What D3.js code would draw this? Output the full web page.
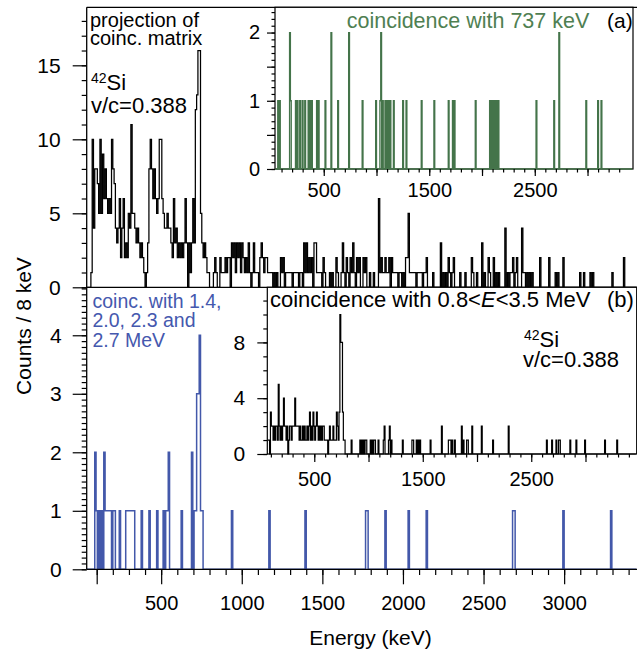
<!DOCTYPE html>
<html><head><meta charset="utf-8">
<script src="https://cdn.jsdelivr.net/npm/d3@7"></script>
<style>
body{margin:0;background:#fff;}
svg{display:block;}
</style></head><body>
<svg id="c" width="637" height="656"></svg>
<script>
// ---------- data (counts per 8 keV bin; bin start energy in keV) ----------
const BIN = 8;
const topStart = 40;
const topDense = [0,0,0,1,10,4,8,8,7,5, 10,5,9,6,8,6,5,6,5,10, 8,7,4,3,4,6,2,4,6,2,
  3,2,5,4,11,5,5,4,3,4, 3,2,3,2,1,0,1,3,8,10, 8,6,8,6,5,6,10,10,6,5,
  4,4,5,4,4,3,2,6,3,4, 2,3,2,3,2,3,6,3,0,3, 1,3,6,3,12,13,16,16,5,3, 2,3,2,1,1,0,0,0];
const topSparse = [[824,1],[832,2],[840,1],[864,2],[872,1],[880,1],[888,1],[896,2],[904,1],[912,2],[920,2],[936,3],[944,2],[952,3],[960,1],[968,3],[976,2],[984,3],[992,1],[1000,3],[1008,2],[1016,1],[1024,2],[1032,1],[1040,3],[1048,1],[1064,1],[1072,3],[1080,1],[1088,1],[1096,1],[1112,2],[1120,3],[1128,2],[1136,1],[1144,2],[1152,2],[1160,1],[1168,1],[1176,1],[1184,1],[1200,1],[1216,1],[1240,2],[1248,1],[1256,2],[1272,1],[1280,1],[1288,1],[1296,1],[1304,1],[1320,1],[1328,1],[1336,1],[1344,1],[1360,1],[1368,1],[1384,3],[1392,1],[1400,3],[1408,1],[1416,2],[1424,1],[1432,2],[1448,3],[1456,3],[1464,1],[1472,1],[1480,1],[1488,1],[1504,2],[1512,1],[1544,1],[1560,1],[1584,2],[1592,1],[1616,1],[1624,3],[1632,1],[1648,2],[1656,1],[1672,2],[1680,1],[1688,3],[1696,1],[1712,2],[1720,1],[1728,2],[1752,2],[1760,1],[1768,2],[1792,1],[1816,1],[1848,6],[1856,1],[1864,2],[1872,1],[1880,1],[1888,2],[1896,1],[1904,1],[1912,2],[1928,2],[1936,1],[1944,1],[1952,1],[1960,1],[1976,1],[1984,1],[2000,1],[2016,2],[2024,2],[2032,5],[2040,1],[2048,1],[2056,1],[2064,1],[2072,1],[2088,1],[2096,1],[2104,1],[2112,1],[2128,1],[2136,1],[2144,2],[2184,1],[2232,3],[2248,1],[2264,1],[2280,2],[2288,1],[2304,1],[2312,2],[2352,1],[2384,1],[2424,2],[2432,1],[2456,1],[2488,3],[2504,1],[2528,2],[2536,1],[2560,2],[2576,1],[2592,1],[2632,4],[2648,1],[2664,1],[2672,1],[2680,2],[2696,1],[2704,2],[2736,4],[2744,1],[2752,1],[2768,1],[2784,1],[2800,1],[2848,2],[2904,2],[2944,1],[2960,1],[2992,2],[3096,1],[3120,1],[3160,1],[3176,1],[3296,1],[3368,2]];
const blueSparse = [[88,2],[96,1],[112,1],[128,1],[144,2],[152,1],[160,1],[168,1],[176,1],[184,1],[200,1],[208,1],[240,1],[280,1],[288,1],[296,1],[304,1],[312,1],[320,1],[328,1],[376,1],[424,1],[472,1],[512,1],[528,1],[536,1],[544,2],[624,1],[688,2],[704,1],[712,1],[720,3],[728,3],[736,4],[744,1],[752,1],[936,1],[1168,1],[1392,1],[1768,1],[1776,1],[1888,1],[2032,1],[2144,1],[2680,1],[2688,1],[2992,1],[3288,1]];
const greenSparse = [[64,1],[80,1],[176,2],[184,1],[232,1],[248,1],[272,1],[296,1],[320,1],[352,1],[368,1],[384,1],[432,1],[448,1],[512,1],[568,2],[632,1],[736,2],[864,1],[992,1],[1032,1],[1040,2],[1056,1],[1080,1],[1096,1],[1112,1],[1128,1],[1160,1],[1248,1],[1280,1],[1424,1],[1544,1],[1680,1],[1720,1],[1736,1],[1936,1],[2072,1],[2088,1],[2104,1],[2120,1],[2136,1],[2152,1],[2512,1],[2680,1],[2728,2],[2984,1],[3096,1],[3128,1]];
const insetBSparse = [[72,1],[80,1],[96,3],[104,2],[112,2],[120,1],[128,2],[136,1],[144,2],[152,2],[160,1],[168,5],[176,2],[184,1],[192,2],[200,1],[208,2],[216,4],[224,2],[232,2],[240,1],[248,2],[264,1],[272,2],[280,2],[288,1],[296,2],[304,2],[312,2],[320,4],[328,2],[336,2],[344,2],[352,2],[360,1],[368,2],[376,1],[384,1],[392,2],[400,1],[408,2],[416,1],[424,1],[432,2],[440,1],[448,2],[456,3],[464,1],[472,2],[480,1],[488,3],[496,2],[504,1],[512,2],[520,3],[528,2],[536,1],[544,2],[552,1],[560,2],[568,1],[576,2],[584,2],[592,1],[600,1],[608,1],[616,1],[632,1],[640,2],[648,1],[656,1],[664,1],[672,2],[680,1],[688,1],[696,1],[704,3],[712,2],[720,1],[728,3],[736,10],[744,8],[752,8],[760,3],[768,1],[776,1],[840,1],[920,1],[936,1],[952,1],[968,1],[976,1],[1016,1],[1032,1],[1048,1],[1056,1],[1088,1],[1136,1],[1144,2],[1184,1],[1192,2],[1208,1],[1312,1],[1400,1],[1408,1],[1440,1],[1456,1],[1472,1],[1568,1],[1672,2],[1736,1],[1744,1],[1752,1],[1768,1],[1792,1],[1856,2],[1872,1],[1904,1],[1912,1],[1952,2],[2040,2],[2144,1],[2288,2],[2640,1],[2688,1],[2728,1],[2752,1],[2760,1],[2856,1],[2912,1],[2992,1],[3176,1],[3288,1]];

const yTopLabels = [0,5,10,15];
const yBotLabels = [0,1,2,3,4];
const xBotLabels = [500,1000,1500,2000,2500,3000];
const xInsetLabels = [500,1500,2500];
const yInsetALabels = [0,1,2];
const yInsetBLabels = [0,4,8];

// ---------- setup ----------
const FONT = '"Liberation Sans", Arial, Helvetica, sans-serif';
const GREEN = '#44744a', GREEN_T = '#4f7f52', BLUE = '#4358aa', BLUE_T = '#4558ae';
const svg = d3.select('#c').attr('font-family', FONT);

function bins(start, end, dense, sparse) {
  const m = new Map(sparse.map(d => [d[0], d[1]]));
  const out = [];
  for (let e = start, i = 0; e <= end; e += BIN, i++) {
    const c = (dense && i < dense.length) ? dense[i] : (m.get(e) || 0);
    out.push({e, c});
  }
  out.push({e: end + BIN, c: out[out.length - 1].c});
  return out;
}

const xMain = d3.scaleLinear().domain([38, 3452]).range([86.7, 637]);
const yTop = d3.scaleLinear().domain([0, 18.92]).range([287.3, 7.3]);
const yBot = d3.scaleLinear().domain([0, 4.82]).range([569.3, 287.3]);
const xA = d3.scaleLinear().domain([38, 3431]).range([275, 633]);
const yA = d3.scaleLinear().domain([0, 2.37]).range([169, 7.3]);
const xB = d3.scaleLinear().domain([67, 3472]).range([267.3, 636.7]);
const yB = d3.scaleLinear().domain([0, 11.95]).range([454, 287.3]);

function hist(data, x, y, color, w) {
  svg.append('path')
    .attr('d', d3.line().x(d => x(d.e)).y(d => y(d.c)).curve(d3.curveStepAfter)(data))
    .attr('fill', 'none').attr('stroke', color).attr('stroke-width', w);
}

function axis(gen, scale, values, size, labels, pad, fs, tx, ty) {
  const g = svg.append('g').attr('transform', `translate(${tx},${ty})`)
    .call(gen(scale).tickValues(values).tickSize(size).tickSizeOuter(0).tickPadding(pad)
      .tickFormat(d => labels && labels.includes(d) ? String(d) : ''));
  g.select('.domain').remove();
  g.selectAll('line').attr('stroke', '#000').attr('stroke-width', 1.2);
  g.selectAll('text').attr('font-size', fs).attr('font-family', FONT).attr('fill', '#000');
  return g;
}
const rng = (a, b, s) => d3.range(Math.round(a / s), Math.round(b / s) + 1).map(i => +(i * s).toFixed(3));

// ---------- main histograms ----------
hist(bins(topStart, 3440, topDense, topSparse), xMain, yTop, '#000', 1.25);
hist(bins(topStart, 3440, null, blueSparse), xMain, yBot, BLUE, 1.5);

// main axes
axis(d3.axisLeft, yTop, rng(0, 18, 1), 5, null, 0, 21, 86.7, 0);
axis(d3.axisLeft, yTop, yTopLabels, 14, yTopLabels, 12, 21, 86.7, 0);
axis(d3.axisLeft, yBot, rng(0, 4.8, 0.1), 5, null, 0, 21, 86.7, 0);
axis(d3.axisLeft, yBot, yBotLabels, 14, yBotLabels, 11, 21, 86.7, 0);
axis(d3.axisBottom, xMain, rng(100, 3400, 100), 5.7, null, 0, 20, 0, 569.3);
axis(d3.axisBottom, xMain, [100].concat(xBotLabels), 15, xBotLabels, 12, 20, 0, 569.3);

// frame
const frame = svg.append('g').attr('stroke', '#000').attr('stroke-width', 1.3);
frame.append('line').attr('x1', 86.7).attr('x2', 637).attr('y1', 7.3).attr('y2', 7.3);
frame.append('line').attr('x1', 86.7).attr('x2', 86.7).attr('y1', 7.3).attr('y2', 569.3);
frame.append('line').attr('x1', 86.7).attr('x2', 637).attr('y1', 287.3).attr('y2', 287.3);
frame.append('line').attr('x1', 86.7).attr('x2', 637).attr('y1', 569.3).attr('y2', 569.3);

// ---------- inset (a) ----------
svg.append('rect').attr('x', xA.range()[0]).attr('y', yA.range()[1])
  .attr('width', xA.range()[1] - xA.range()[0]).attr('height', yA.range()[0] - yA.range()[1])
  .attr('fill', '#fff').attr('stroke', '#000').attr('stroke-width', 1.2);
hist(bins(40, 3416, null, greenSparse), xA, yA, GREEN, 1.3);
axis(d3.axisLeft, yA, rng(0, 2.3, 0.1), 3.5, null, 0, 20, 275, 0);
axis(d3.axisLeft, yA, rng(0, 2, 0.5), 8, yInsetALabels, 7, 20, 275, 0);
axis(d3.axisBottom, xA, rng(100, 3300, 100), 3.5, null, 0, 20, 0, 169);
axis(d3.axisBottom, xA, rng(500, 3000, 500), 7, xInsetLabels, 7, 20, 0, 169);

// ---------- inset (b) ----------
svg.append('rect').attr('x', xB.range()[0]).attr('y', yB.range()[1])
  .attr('width', xB.range()[1] - xB.range()[0]).attr('height', yB.range()[0] - yB.range()[1])
  .attr('fill', '#fff').attr('stroke', '#000').attr('stroke-width', 1.2);
hist(bins(72, 3456, null, insetBSparse), xB, yB, '#000', 1.2);
axis(d3.axisLeft, yB, rng(0, 11, 1), 4, null, 0, 21, 267.3, 0);
axis(d3.axisLeft, yB, yInsetBLabels, 10, yInsetBLabels, 12, 21, 267.3, 0);
axis(d3.axisBottom, xB, rng(100, 3400, 100), 3.5, null, 0, 20, 0, 454);
axis(d3.axisBottom, xB, rng(500, 3000, 500), 8, xInsetLabels, 10, 20, 0, 454);

// ---------- texts ----------
function txt(x, y, s, fs, color) {
  return svg.append('text').attr('x', x).attr('y', y).attr('font-size', fs)
    .attr('fill', color || '#000').text(s);
}
txt(90, 26.5, 'projection of', 20);
txt(90, 45, 'coinc. matrix', 20);
function nucl(x, y) {
  const t = svg.append('text').attr('x', x).attr('y', y).attr('font-size', 22).attr('fill', '#000');
  t.append('tspan').attr('font-size', 14).attr('dy', -7).text('42');
  t.append('tspan').attr('dy', 7).text('Si');
}
nucl(91, 90);
txt(91, 113.3, 'v/c=0.388', 22);
nucl(524, 346.7);
txt(523, 367.3, 'v/c=0.388', 22);

txt(346.7, 28.3, 'coincidence with 737 keV', 21.5, GREEN_T);
txt(607, 28.3, '(a)', 21);
const tb = svg.append('text').attr('x', 270).attr('y', 306.7).attr('font-size', 22).attr('fill', '#000');
tb.append('tspan').text('coincidence with 0.8<');
tb.append('tspan').attr('font-style', 'italic').text('E');
tb.append('tspan').text('<3.5 MeV');
txt(607, 306.7, '(b)', 22);

txt(92.5, 308.3, 'coinc. with 1.4,', 19.5, BLUE_T);
txt(92.5, 327, '2.0, 2.3 and', 19.5, BLUE_T);
txt(92.5, 346.5, '2.7 MeV', 19.5, BLUE_T);

svg.append('text').attr('transform', 'translate(31,326) rotate(-90)')
  .attr('text-anchor', 'middle').attr('font-size', 21).attr('fill', '#000').text('Counts / 8 keV');
svg.append('text').attr('x', 370.5).attr('y', 645).attr('text-anchor', 'middle')
  .attr('font-size', 21).attr('fill', '#000').text('Energy (keV)');
</script>
</body></html>
